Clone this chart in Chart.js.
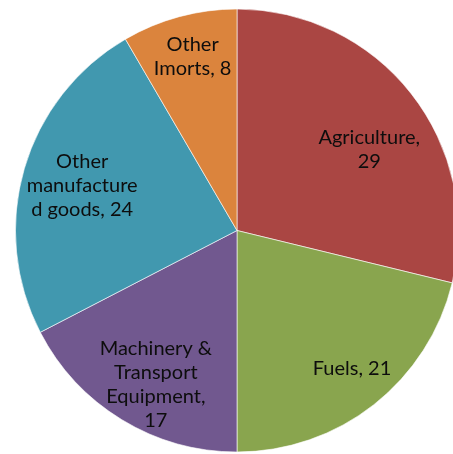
<!DOCTYPE html>
<html>
<head>
<meta charset="utf-8">
<script src="https://cdn.jsdelivr.net/npm/chart.js@4/dist/chart.umd.min.js"></script>
<style>
  html, body { margin: 0; padding: 0; background: #fff; overflow: hidden; }
  #wrap { width: 475px; height: 454px; }
</style>
</head>
<body>
<div id="wrap"><canvas id="myChart" width="475" height="454"></canvas></div>
<script>
var categories = ["Agriculture", "Fuels", "Machinery & Transport Equipment", "Other manufactured goods", "Other Imorts"];
// slice sizes (labels show them rounded)
var values = [28.8, 21.2, 17.4, 24.2, 8.4];
// label text as wrapped in the picture; the value goes at the end of the last line
var labelLines = [
    ["Agriculture,", ""],
    ["Fuels, "],
    ["Machinery &", "Transport", "Equipment,", ""],
    ["Other", "manufacture", "d goods, "],
    ["Other", "Imorts, "]
];
var colors = ["#AA4643", "#89A54E", "#71588F", "#4198AF", "#DB843D"];

// label placement: fraction of radius and angle shift (degrees) from slice middle
var labelRadius = [0.70, 0.81, 0.785, 0.728, 0.81];
var labelShift = [6.7, -1.7, -3.5, 0, 0.8];

var sliceLabels = {
    id: 'sliceLabels',
    afterDatasetsDraw: function(chart) {
        var ctx = chart.ctx;
        var meta = chart.getDatasetMeta(0);
        ctx.save();
        ctx.font = '20px Lato, sans-serif';
        ctx.fillStyle = '#0d0d0d';
        ctx.textAlign = 'center';
        ctx.textBaseline = 'middle';
        meta.data.forEach(function(arc, i) {
            var mid = (arc.startAngle + arc.endAngle) / 2 + labelShift[i] * Math.PI / 180;
            var r = arc.outerRadius * labelRadius[i];
            var x = arc.x + Math.cos(mid) * r;
            var y = arc.y + Math.sin(mid) * r;
            var lines = labelLines[i].slice();
            lines[lines.length - 1] += Math.round(values[i]);
            var lh = 24;
            var y0 = y - (lines.length - 1) * lh / 2;
            lines.forEach(function(t, j) {
                ctx.fillText(t, x, y0 + j * lh);
            });
        });
        ctx.restore();
    }
};

var ctx = document.getElementById('myChart');
var myPie = new Chart(ctx, {
    type: 'pie',
    data: {
        labels: categories,
        datasets: [{
            data: values,
            backgroundColor: colors,
            borderColor: 'rgba(255,255,255,0.6)',
            borderWidth: 1
        }]
    },
    options: {
        responsive: false,
        animation: false,
        layout: { padding: { left: 15, right: 16, top: 8, bottom: 1 } },
        plugins: {
            legend: { display: false },
            tooltip: { enabled: false }
        }
    },
    plugins: [sliceLabels]
});
</script>
</body>
</html>
